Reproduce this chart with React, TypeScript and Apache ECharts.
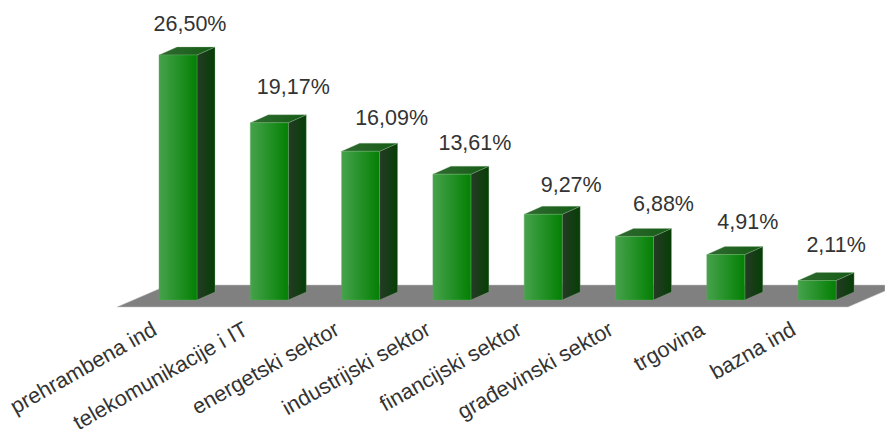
import React, { useEffect, useRef } from "react";
import * as echarts from "echarts";

const categories = [
  "prehrambena ind",
  "telekomunikacije i IT",
  "energetski sektor",
  "industrijski sektor",
  "financijski sektor",
  "građevinski sektor",
  "trgovina",
  "bazna ind",
];
const values = [26.5, 19.17, 16.09, 13.61, 9.27, 6.88, 4.91, 2.11];
const labelShiftX = [3, 15, 22, 14, 19, 20, 13, 10];
const labelShiftY = [23, 28, 25, 23, 21, 24, 25, 27];

const fmt = (v: number) => v.toFixed(2).replace(".", ",") + "%";
const FONT = "'Liberation Sans', Arial, sans-serif";
const BAR_W = 38;
const DX = 18;
const DY = 8;

function renderBar(params: any, api: any) {
  const i = api.value(0);
  const v = api.value(1);
  const top = api.coord([i, v]);
  const base = api.coord([i, 0]);
  const xl = top[0] - 19;
  const xr = xl + BAR_W;
  const yt = top[1];
  const yb = base[1];
  const front = new echarts.graphic.LinearGradient(0, 0, 1, 0, [
    { offset: 0, color: "#46a24c" },
    { offset: 1, color: "#038003" },
  ]);
  const side = new echarts.graphic.LinearGradient(0, 0, 1, 0, [
    { offset: 0, color: "#263a26" },
    { offset: 1, color: "#053f05" },
  ]);
  const cap = new echarts.graphic.LinearGradient(0, 0, 1, 0, [
    { offset: 0, color: "#2f6a30" },
    { offset: 1, color: "#145c14" },
  ]);
  return {
    type: "group",
    children: [
      {
        type: "polygon",
        shape: { points: [[xr, yt], [xr + DX, yt - DY], [xr + DX, yb - DY], [xr, yb]] },
        style: { fill: side, stroke: "#9dbb9d", lineWidth: 0.3 },
      },
      {
        type: "polygon",
        shape: { points: [[xl, yt], [xl + DX, yt - DY], [xr + DX, yt - DY], [xr, yt]] },
        style: { fill: cap, stroke: "#9dbb9d", lineWidth: 0.3 },
      },
      {
        type: "rect",
        shape: { x: xl, y: yt, width: BAR_W, height: yb - yt },
        style: { fill: front, stroke: "#5fa85f", lineWidth: 0.4 },
      },
      {
        type: "text",
        x: (xl + xr + DX) / 2 + labelShiftX[i],
        y: yt - DY - labelShiftY[i],
        style: {
          text: fmt(v),
          fill: "#333333",
          font: `21.5px ${FONT}`,
          align: "center",
          verticalAlign: "middle",
        },
      },
    ],
  };
}

export default function App() {
  const ref = useRef<HTMLDivElement>(null);
  useEffect(() => {
    const chart = echarts.init(ref.current!, undefined, { renderer: "svg" });
    chart.setOption({
      animation: false,
      backgroundColor: "#ffffff",
      grid: {
        left: 132.35,
        width: 730.4,
        top: 22.65,
        height: 277.35,
        containLabel: false,
        outerBoundsMode: "none",
      },
      xAxis: {
        type: "category",
        data: categories,
        axisLine: { show: false },
        axisTick: { show: false },
        axisLabel: {
          interval: 0,
          rotate: 29.5,
          margin: 14,
          padding: [0, 27, 0, 0],
          color: "#333333",
          fontFamily: FONT,
          fontSize: 21.7,
        },
      },
      yAxis: { type: "value", min: 0, max: 30, show: false },
      graphic: [
        {
          type: "polygon",
          z: 0,
          shape: { points: [[117, 307], [168, 285], [885, 285], [885, 291], [848, 307]] },
          style: { fill: "#808080", stroke: "#c4c4c4", lineWidth: 0.5 },
        },
      ],
      series: [
        {
          type: "custom",
          renderItem: renderBar,
          encode: { x: 0, y: 1 },
          data: values.map((v, i) => [i, v]),
          clip: false,
          silent: true,
        },
      ],
    });
    return () => chart.dispose();
  }, []);
  return <div ref={ref} style={{ position: "absolute", left: 0, top: 0, width: 885, height: 435 }} />;
}
